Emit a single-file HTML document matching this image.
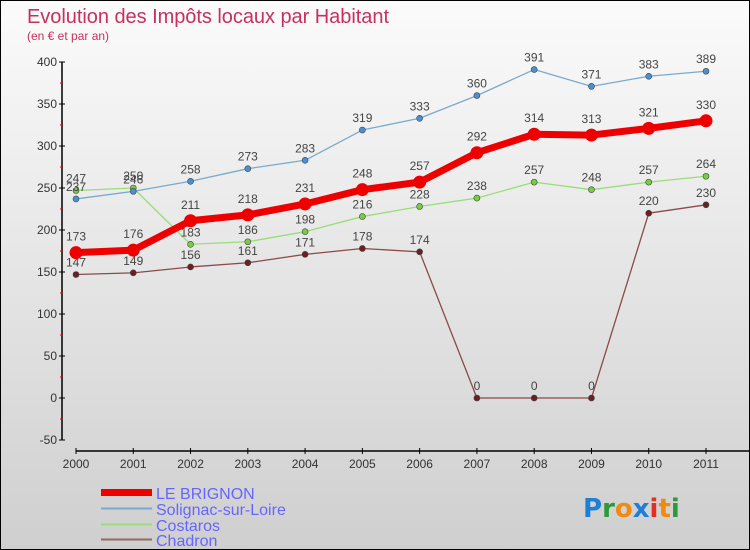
<!DOCTYPE html>
<html><head><meta charset="utf-8"><style>
body{margin:0}
#c{width:748px;height:548px;border:1px solid #000;background:linear-gradient(#fbfbfb,#cfcfcf);position:relative;overflow:hidden;font-family:"Liberation Sans",sans-serif}
</style></head><body>
<div id="c">
<svg id="s" width="748" height="548" style="position:absolute;left:0;top:0">
<text x="26" y="22" font-size="20" fill="#c8305f" textLength="362">Evolution des Impôts locaux par Habitant</text>
<text x="26" y="39" font-size="12" fill="#c8305f">(en € et par an)</text>
<g id="axes"></g><g id="series"></g>
<g>
<rect x="100" y="488" width="51" height="7" fill="#ee0000"/>
<text x="155" y="498" font-size="16" fill="#6666ff">LE BRIGNON</text>
<line x1="100" y1="507.5" x2="151" y2="507.5" stroke="#7aaacc" stroke-width="2"/>
<text x="155" y="514" font-size="16" fill="#6666ff">Solignac-sur-Loire</text>
<line x1="100" y1="523.5" x2="151" y2="523.5" stroke="#99dd77" stroke-width="2"/>
<text x="155" y="530" font-size="16" fill="#6666ff">Costaros</text>
<line x1="100" y1="538.5" x2="151" y2="538.5" stroke="#996666" stroke-width="2"/>
<text x="155" y="545" font-size="16" fill="#6666ff">Chadron</text>
</g>
<g font-size="26" font-family="'DejaVu Sans',sans-serif" font-weight="bold">
<text x="582" y="516"><tspan fill="#1e7fd8">P</tspan><tspan fill="#2a9a3a">r</tspan><tspan fill="#f08a10">o</tspan><tspan fill="#1e7fd8">x</tspan><tspan fill="#e03020">i</tspan><tspan fill="#f08a10">t</tspan><tspan fill="#2a9a3a">i</tspan></text>
</g>
</svg>
</div>
<script>
const years=["2000","2001","2002","2003","2004","2005","2006","2007","2008","2009","2010","2011"];
const brignon=[173,176,211,218,231,248,257,292,314,313,321,330];
const solignac=[237,246,258,273,283,319,333,360,391,371,383,389];
const costaros=[247,250,183,186,198,216,228,238,257,248,257,264];
const chadron=[147,149,156,161,171,178,174,0,0,0,220,230];
const yTicks=[-50,0,50,100,150,200,250,300,350,400];
const NS="http://www.w3.org/2000/svg";
const X=i=>75+i*(630/11);
const Y=v=>397-v*0.84;
function mk(p,t,a){const e=document.createElementNS(NS,t);for(const k in a)e.setAttribute(k,a[k]);p.appendChild(e);return e;}
const ax=document.getElementById('axes');
let l=mk(ax,'line',{x1:61,y1:Y(400),x2:61,y2:Y(-50),stroke:'#000','stroke-width':1.5});


l=mk(ax,'line',{x1:75,y1:450,x2:748,y2:450,stroke:'#000','stroke-width':1.5});


yTicks.forEach(v=>{
  mk(ax,'line',{x1:58,y1:Y(v),x2:64,y2:Y(v),stroke:'#000'});
  const t=mk(ax,'text',{x:56,y:Y(v)+4,'font-size':12,fill:'#333','text-anchor':'end'});t.textContent=v;
  
  
  if(v<400)mk(ax,'line',{x1:59,y1:Y(v+25),x2:62,y2:Y(v+25),stroke:'#e00'});
});
years.forEach((y,i)=>{
  mk(ax,'line',{x1:X(i),y1:447,x2:X(i),y2:453,stroke:'#000'});
  const t=mk(ax,'text',{x:X(i),y:467,'font-size':12,fill:'#333','text-anchor':'middle'});t.textContent=y;
  
  
});
const sg=document.getElementById('series');
function draw(name,vals,col,w,r,dot,labelDy){
  const g=mk(sg,'g',{});
  
  
  mk(g,'polyline',{points:vals.map((v,i)=>X(i)+','+Y(v)).join(' '),fill:'none',stroke:col,'stroke-width':w,'stroke-linejoin':'round'});
  vals.forEach((v,i)=>{
    const c=mk(g,'circle',{cx:X(i),cy:Y(v),r:r,fill:dot,stroke:'#444','stroke-width':r>4?0:0.6});
    
    
    const t=mk(g,'text',{x:X(i),y:Y(v)+labelDy,'font-size':12,fill:'#444','text-anchor':'middle'});t.textContent=v;
    
    
  });
}
draw('chadron',chadron,'#8a4a4a',1.3,3,'#6a2020',-8);
draw('costaros',costaros,'#99dd77',1.3,3,'#77cc44',-8);
draw('solignac',solignac,'#7aaacc',1.3,3,'#4a90d0',-8);
draw('le-brignon',brignon,'#ee0000',7,6.5,'#ee0000',-12);
</script>
</body></html>
